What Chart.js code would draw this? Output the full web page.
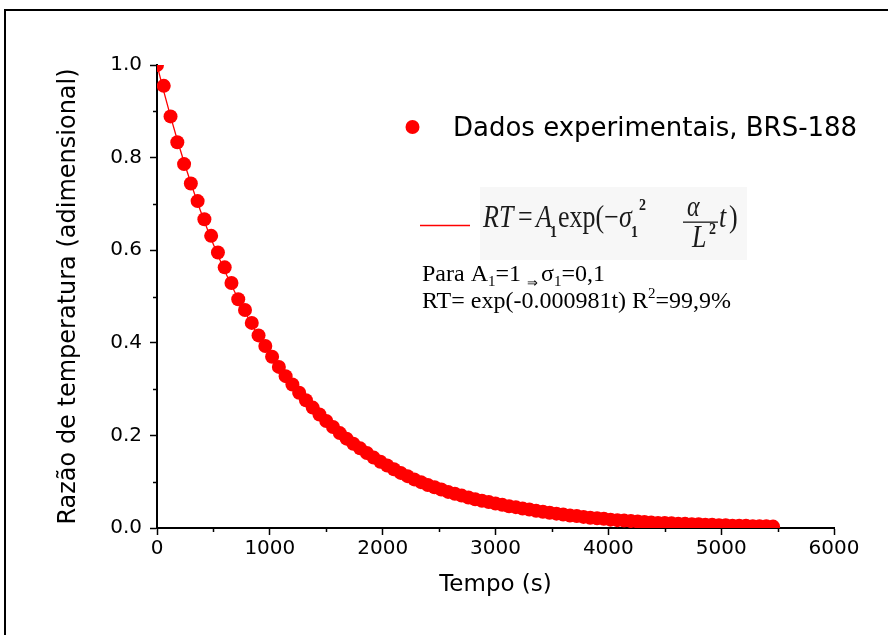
<!DOCTYPE html>
<html><head><meta charset="utf-8">
<script src="https://cdn.jsdelivr.net/npm/chart.js@4/dist/chart.umd.min.js"></script>
<style>html,body{margin:0;padding:0;background:#fff}canvas{display:block}</style>
</head><body>
<canvas id="c" width="888" height="635"></canvas>
<script>
// time (s) of each experimental point
const times = [0,60,120,180,240,300,360,420,480,540,600,660,720,780,840,900,960,1020,1080,1140,
1200,1260,1320,1380,1440,1500,1560,1620,1680,1740,1800,1860,1920,1980,2040,2100,2160,2220,2280,2340,
2400,2460,2520,2580,2640,2700,2760,2820,2880,2940,3000,3060,3120,3180,3240,3300,3360,3420,3480,3540,
3600,3660,3720,3780,3840,3900,3960,4020,4080,4140,4200,4260,4320,4380,4440,4500,4560,4620,4680,4740,
4800,4860,4920,4980,5040,5100,5160,5220,5280,5340,5400,5460];
// temperature ratio (experimental)
const ratio = [1.000,0.955,0.889,0.833,0.786,0.744,0.706,0.667,0.631,0.595,0.563,0.529,0.494,0.471,0.443,0.416,0.393,0.370,0.348,0.328,
0.310,0.292,0.276,0.260,0.245,0.231,0.218,0.205,0.193,0.182,0.172,0.162,0.152,0.143,0.135,0.127,0.119,0.112,0.105,0.099,
0.093,0.088,0.083,0.078,0.074,0.070,0.066,0.062,0.059,0.056,0.053,0.050,0.047,0.045,0.042,0.040,0.037,0.035,0.033,0.031,
0.029,0.027,0.026,0.024,0.022,0.021,0.020,0.018,0.017,0.016,0.015,0.014,0.013,0.012,0.011,0.011,0.010,0.009,0.009,0.008,
0.008,0.007,0.007,0.006,0.006,0.005,0.005,0.005,0.004,0.004,0.004,0.003];
// fitted curve
const fitTimes = [0,60,120,180,240,300,360,420,480,540,600,720,840,960,1080,1200,1350,1500,1650,1800,2000,2200,2400,2600,2800,3000,3300,3600,3900,4200,4500,4800,5100,5460];
const fitRatio = [1.000,0.943,0.889,0.838,0.790,0.745,0.702,0.662,0.624,0.589,0.555,0.494,0.439,0.390,0.347,0.308,0.266,0.230,0.198,0.171,0.141,0.116,0.095,0.078,0.064,0.053,0.039,0.029,0.022,0.016,0.012,0.009,0.0067,0.0047];
// axis ticks
const xTicks = [0,1000,2000,3000,4000,5000,6000];
const xTickLabels = ['0','1000','2000','3000','4000','5000','6000'];
const xMinor = [500,1500,2500,3500,4500,5500];
const yTicks = [0,0.2,0.4,0.6,0.8,1.0];
const yTickLabels = ['0.0','0.2','0.4','0.6','0.8','1.0'];
const yMinor = [0.1,0.3,0.5,0.7,0.9];

const SANS = 'DejaVu Sans';
const SERIF = '"Liberation Serif", "Times New Roman", serif';

function runs(c, x, y, list){
  list.forEach(r=>{
    c.font = r.f;
    c.fillText(r.t, x, y + (r.dy||0));
    x += c.measureText(r.t).width + (r.gap||0);
  });
  return x;
}
// text stretched vertically (equation image look)
function tall(c, t, f, x, y, sy){
  c.save();
  c.translate(x, y);
  c.scale(1, sy);
  c.font = f;
  c.fillText(t, 0, 0);
  c.restore();
}

const annot = {
  id:'annot',
  afterDraw(chart){
    const c = chart.ctx;
    const xs = chart.scales.x, ys = chart.scales.y;
    const ca = chart.chartArea;
    c.save();
    // outer frame
    c.fillStyle = '#000';
    c.fillRect(4,9,884,2);
    c.fillRect(4,9,2,626);
    // minor ticks
    c.strokeStyle = '#000'; c.lineWidth = 1.5;
    c.beginPath();
    xMinor.forEach(v=>{const p = Math.round(xs.getPixelForValue(v))+0.5; c.moveTo(p, ca.bottom); c.lineTo(p, ca.bottom+4);});
    yMinor.forEach(v=>{const p = Math.round(ys.getPixelForValue(v))+0.5; c.moveTo(ca.left-4, p); c.lineTo(ca.left, p);});
    c.stroke();
    // legend: points
    c.fillStyle = '#ff0000';
    c.beginPath(); c.arc(412.5,127,7,0,Math.PI*2); c.fill();
    c.fillStyle = '#000';
    c.textBaseline = 'alphabetic';
    c.textAlign = 'left';
    c.font = '26px ' + SANS;
    c.fillText('Dados experimentais, BRS-188', 453, 136);
    // legend: line
    c.strokeStyle = '#ff0000'; c.lineWidth = 1.5;
    c.beginPath(); c.moveTo(420,225.5); c.lineTo(470,225.5); c.stroke();
    // equation box
    c.fillStyle = '#f7f7f7';
    c.fillRect(480,187,267,73);
    c.fillStyle = '#1a1a1a';
    const fi = 'italic 26px ' + SERIF, fn = '26px ' + SERIF, fs = 'bold 14px ' + SERIF;
    const sy = 1.2;
    tall(c, 'RT', fi, 483, 227, sy);
    tall(c, '=', fn, 518, 227, sy);
    tall(c, 'A', fi, 536, 227, sy);
    tall(c, '1', fs, 550, 237, sy);
    tall(c, 'exp(', fn, 558, 227, sy);
    tall(c, '\u2212', fn, 604, 227, sy);
    tall(c, '\u03c3', fi, 619, 227, sy);
    tall(c, '1', fs, 631, 237, sy);
    tall(c, '2', fs, 639, 210, sy);
    tall(c, '\u03b1', 'italic 24px ' + SERIF, 687, 216, sy);
    c.fillRect(683, 221.5, 35, 1.3);
    tall(c, 'L', fi, 692, 247, sy);
    tall(c, '2', fs, 709, 234, sy);
    tall(c, 't', fi, 719, 227, sy);
    tall(c, ')', fn, 729, 227, sy);
    // fit notes
    c.fillStyle = '#000';
    const tn = '24px ' + SERIF, ts = '15px ' + SERIF, ta = '13px ' + SERIF;
    runs(c, 422, 281, [
      {t:'Para A', f:tn},
      {t:'1', f:ts, dy:5},
      {t:'=1 ', f:tn},
      {t:'\u21d2', f:ta, dy:6, gap:3},
      {t:'\u03c3', f:tn},
      {t:'1', f:ts, dy:5},
      {t:'=0,1', f:tn}
    ]);
    runs(c, 422, 308, [
      {t:'RT= exp(-0.000981t) R', f:tn},
      {t:'2', f:ts, dy:-10},
      {t:'=99,9%', f:tn}
    ]);
    c.restore();
  }
};

new Chart(document.getElementById('c'), {
  type:'scatter',
  data:{datasets:[
    {label:'Dados experimentais, BRS-188', data: times.map((t,i)=>({x:t,y:ratio[i]})),
     backgroundColor:'#ff0000', borderColor:'#ff0000', pointRadius:7, pointBorderWidth:0, showLine:false, order:1},
    {type:'line', label:'RT = A1 exp(-σ1² α/L² t)', data: fitTimes.map((t,i)=>({x:t,y:fitRatio[i]})),
     borderColor:'#ff0000', borderWidth:1.3, pointRadius:0, fill:false, tension:0, order:2}
  ]},
  options:{
    responsive:false, animation:false, devicePixelRatio:1,
    plugins:{legend:{display:false}, tooltip:{enabled:false}},
    layout:{padding:{left:0,right:54,top:65,bottom:0}},
    scales:{
      x:{type:'linear', min:0, max:6000,
        afterFit(s){ s.height = 107; },
        afterBuildTicks(s){ s.ticks = xTicks.map(v=>({value:v})); },
        ticks:{callback:(v,i)=>xTickLabels[i], font:{family:SANS, size:20}, color:'#000', padding:2, maxRotation:0, autoSkip:false},
        grid:{drawOnChartArea:false, drawTicks:true, tickLength:7, tickColor:'#000', tickWidth:1.5},
        border:{display:true, color:'#000', width:2},
        title:{display:true, text:'Tempo (s)', font:{family:SANS, size:23}, color:'#000', padding:{top:0,bottom:36}}
      },
      y:{type:'linear', min:0, max:1.0,
        afterFit(s){ s.width = 157; },
        afterBuildTicks(s){ s.ticks = yTicks.map(v=>({value:v})); },
        ticks:{callback:(v,i)=>yTickLabels[i], font:{family:SANS, size:20}, color:'#000', padding:8, autoSkip:false},
        grid:{drawOnChartArea:false, drawTicks:true, tickLength:7, tickColor:'#000', tickWidth:1.5},
        border:{display:true, color:'#000', width:2},
        title:{display:true, text:'Razão de temperatura (adimensional)', font:{family:SANS, size:24}, color:'#000', padding:{top:54,bottom:0}}
      }
    }
  },
  plugins:[annot]
});
</script>
</body></html>
